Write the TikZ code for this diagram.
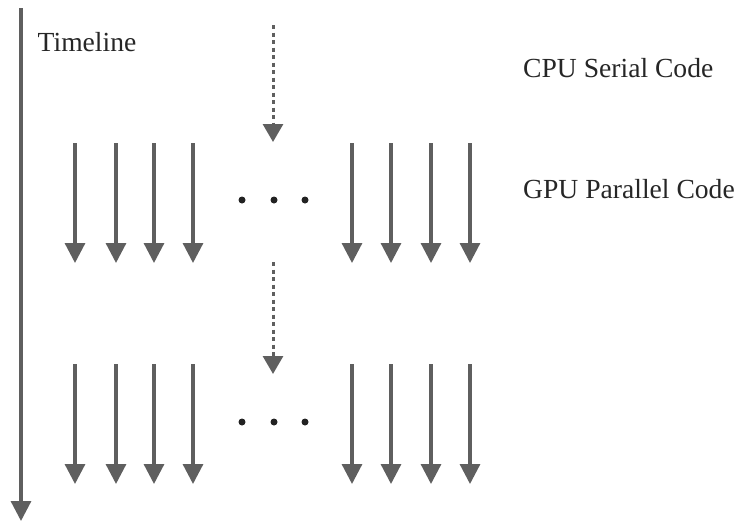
\documentclass[tikz,border=0pt]{standalone}
\usepackage{fontspec}
\setmainfont{Liberation Serif}
\usetikzlibrary{arrows.meta}
\definecolor{flowgray}{HTML}{5F5F5F}
\definecolor{dotblack}{HTML}{222222}
\begin{document}
\begin{tikzpicture}[x=1pt,y=-1pt,
  thread/.style={draw=flowgray,line width=3.2pt,
    -{Triangle[length=20pt,width=20pt]},flowgray},
  serial/.style={draw=flowgray,line width=3pt,dash pattern=on 4pt off 3.5pt,
    -{Triangle[length=18pt,width=20pt]},flowgray},
  label/.style={anchor=base west,inner sep=0pt,text=black!85,
    font=\fontsize{27.6}{32}\selectfont},
  ellipsisdot/.style={circle,fill=dotblack,inner sep=0pt,minimum size=7pt}]
\useasboundingbox (0,0) rectangle (738,523);

% time axis
\coordinate (tTop) at (21,8);
\coordinate (tEnd) at (21,521);
\draw[thread] (tTop) -- (tEnd);
\node[label] (timeline) at (37.5,51) {Timeline};

% legend
\node[label] (cpu) at (523,77) {CPU Serial Code};
\node[label] (gpu) at (523,198) {GPU Parallel Code};

% serial sections
\coordinate (s1a) at (273,25);
\coordinate (s1b) at (273,142);
\draw[serial] (s1a) -- (s1b);
\coordinate (s2a) at (273,262);
\coordinate (s2b) at (273,374);
\draw[serial] (s2a) -- (s2b);

% parallel sections
\foreach \blk/\top/\bot/\doty in {A/143/263/200, B/364/484/422}{
  \foreach \k/\x in {1/75,2/116,3/154,4/193,5/352,6/391,7/431,8/470}{
    \coordinate (\blk\k a) at (\x,\top);
    \coordinate (\blk\k b) at (\x,\bot);
    \draw[thread] (\blk\k a) -- (\blk\k b);
  }
  \foreach \k/\x in {1/242,2/274,3/305}{
    \node[ellipsisdot] (\blk dot\k) at (\x,\doty) {};
  }
}
\end{tikzpicture}
\end{document}
